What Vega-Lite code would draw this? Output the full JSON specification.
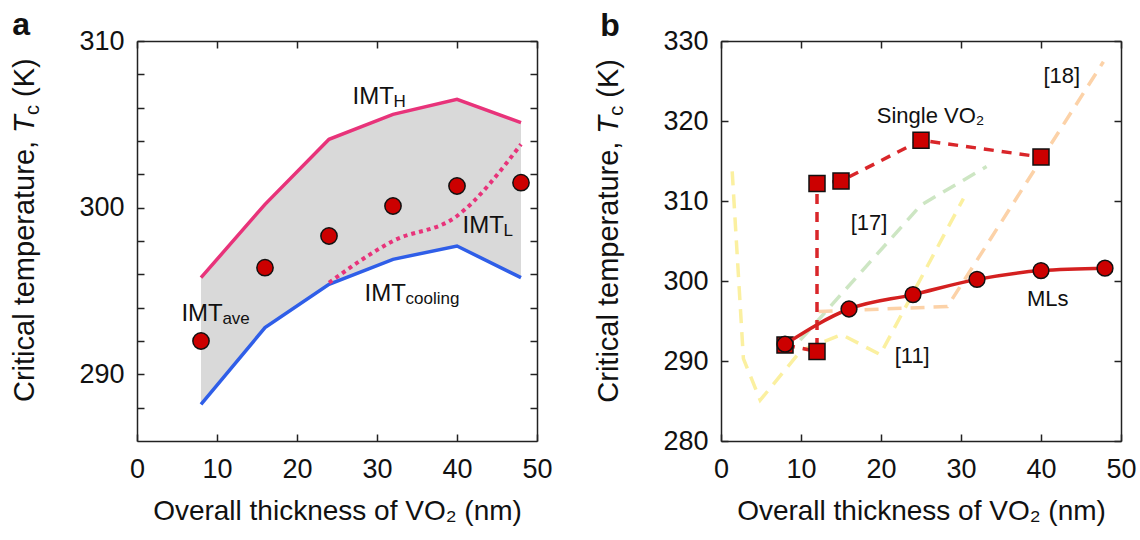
{
  "$schema": "https://vega.github.io/schema/vega-lite/v6.json",
  "padding": {"left": 10, "top": 8, "right": 5, "bottom": 5},
  "config": {
    "font": "Liberation Sans",
    "view": {"stroke": null},
    "axis": {
      "grid": false, "domainColor": "#222", "domainWidth": 1.5,
      "tickColor": "#222", "tickWidth": 1.5, "tickSize": -7, "tickCount": 50, "format": "d",
      "labelFontSize": 27, "labelColor": "#111", "labelFont": "Liberation Sans",
      "titleFontSize": 28, "titleFontWeight": "normal", "titleColor": "#111", "titleFont": "Liberation Sans",
      "labelOverlap": false, "labelFlush": false
    }
  },
  "datasets": {
    "a": [
      {"x": 8, "hi": 295.8, "lo": 288.2, "imtL": null, "ave": 292.0},
      {"x": 16, "hi": 300.2, "lo": 292.8, "imtL": null, "ave": 296.4},
      {"x": 24, "hi": 304.1, "lo": 295.4, "imtL": 295.5, "ave": 298.3},
      {"x": 32, "hi": 305.6, "lo": 296.9, "imtL": 298.0, "ave": 300.1},
      {"x": 40, "hi": 306.5, "lo": 297.7, "imtL": 299.5, "ave": 301.3},
      {"x": 48, "hi": 305.1, "lo": 295.8, "imtL": 303.8, "ave": 301.5}
    ],
    "aLab": [
      {"x": 26.95, "y": 306.2, "main": "IMT", "sub": "H"},
      {"x": 40.7, "y": 298.5, "main": "IMT", "sub": "L"},
      {"x": 28.45, "y": 294.4, "main": "IMT", "sub": "cooling"},
      {"x": 5.55, "y": 293.2, "main": "IMT", "sub": "ave"}
    ],
    "ml": [
      {"x": 8, "y": 292.1}, {"x": 16, "y": 296.5}, {"x": 24, "y": 298.3},
      {"x": 32, "y": 300.2}, {"x": 40, "y": 301.3}, {"x": 48, "y": 301.6}
    ],
    "single": [
      {"o": 1, "x": 8, "y": 292.0}, {"o": 2, "x": 12, "y": 291.2}, {"o": 3, "x": 12, "y": 312.2},
      {"o": 4, "x": 15, "y": 312.5}, {"o": 5, "x": 25, "y": 317.6}, {"o": 6, "x": 40, "y": 315.5}
    ],
    "refs": [
      {"ref": "[11]", "o": 1, "x": 1.4, "y": 313.7},
      {"ref": "[11]", "o": 2, "x": 2.8, "y": 290.3},
      {"ref": "[11]", "o": 3, "x": 4.9, "y": 285.1},
      {"ref": "[11]", "o": 4, "x": 10.0, "y": 291.3},
      {"ref": "[11]", "o": 5, "x": 15.1, "y": 293.3},
      {"ref": "[11]", "o": 6, "x": 19.9, "y": 290.8},
      {"ref": "[11]", "o": 7, "x": 30.3, "y": 310.3},
      {"ref": "[17]", "o": 1, "x": 9.9, "y": 292.6},
      {"ref": "[17]", "o": 2, "x": 25.0, "y": 309.5},
      {"ref": "[17]", "o": 3, "x": 33.2, "y": 314.3},
      {"ref": "[18]", "o": 1, "x": 12.2, "y": 296.2},
      {"ref": "[18]", "o": 2, "x": 28.3, "y": 296.8},
      {"ref": "[18]", "o": 3, "x": 47.8, "y": 327.4}
    ],
    "bLab": [
      {"x": 26.2, "y": 319.7, "t": "Single VO₂"},
      {"x": 18.5, "y": 306.4, "t": "[17]"},
      {"x": 42.6, "y": 324.7, "t": "[18]"},
      {"x": 23.9, "y": 289.7, "t": "[11]"},
      {"x": 40.85, "y": 296.9, "t": "MLs"}
    ]
  },
  "spacing": 41,
  "hconcat": [
    {
      "width": 400, "height": 400,
      "layer": [
        {
          "layer": [
            {
              "data": {"name": "a"},
              "mark": {"type": "area", "color": "#d9d9d9"},
              "encoding": {
                "x": {"field": "x", "type": "quantitative", "scale": {"domain": [0, 50], "nice": false},
                  "axis": {"orient": "bottom", "values": [0, 10, 20, 30, 40, 50], "labelPadding": 22, "title": "Overall thickness of VO₂ (nm)", "titlePadding": 15}},
                "y": {"field": "lo", "type": "quantitative", "scale": {"domain": [286, 310], "nice": false, "zero": false},
                  "axis": {"orient": "left", "values": [288, 290, 292, 294, 296, 298, 300, 302, 304, 306, 308, 310], "format": "d", "labelExpr": "datum.value % 10 === 0 ? datum.label : ''", "labelPadding": 20, "title": null}},
                "y2": {"field": "hi"}
              }
            },
            {
              "data": {"name": "a"},
              "mark": {"type": "line", "color": "#e8337a", "strokeWidth": 3.5},
              "encoding": {"x": {"field": "x", "type": "quantitative"}, "y": {"field": "hi", "type": "quantitative"}}
            },
            {
              "data": {"name": "a"},
              "mark": {"type": "line", "color": "#2f5ee8", "strokeWidth": 3.5},
              "encoding": {"x": {"field": "x", "type": "quantitative"}, "y": {"field": "lo", "type": "quantitative"}}
            },
            {
              "data": {"name": "a"},
              "mark": {"type": "line", "color": "#e8337a", "strokeWidth": 4, "strokeDash": [4, 4], "interpolate": "monotone"},
              "encoding": {"x": {"field": "x", "type": "quantitative"}, "y": {"field": "imtL", "type": "quantitative"}}
            },
            {
              "data": {"name": "a"},
              "mark": {"type": "point", "shape": "circle", "size": 265, "filled": true, "fill": "#cc0000", "stroke": "#111", "strokeWidth": 1.5, "opacity": 1},
              "encoding": {"x": {"field": "x", "type": "quantitative"}, "y": {"field": "ave", "type": "quantitative"}}
            },
            {
              "data": {"name": "aLab"},
              "mark": {"type": "text", "align": "left", "baseline": "alphabetic", "fontSize": 24, "color": "#111"},
              "encoding": {"x": {"field": "x", "type": "quantitative"}, "y": {"field": "y", "type": "quantitative"}, "text": {"field": "main"}}
            },
            {
              "data": {"name": "aLab"},
              "mark": {"type": "text", "align": "left", "baseline": "alphabetic", "fontSize": 17, "dx": 41, "dy": 3, "color": "#111"},
              "encoding": {"x": {"field": "x", "type": "quantitative"}, "y": {"field": "y", "type": "quantitative"}, "text": {"field": "sub"}}
            },
            {
              "data": {"values": [{}]},
              "mark": {"type": "text", "text": "a", "align": "left", "baseline": "alphabetic", "fontSize": 32, "fontWeight": "bold", "color": "#111"},
              "encoding": {"x": {"datum": -15.6, "type": "quantitative"}, "y": {"datum": 310.36, "type": "quantitative"}}
            },
            {
              "data": {"values": [{}]},
              "mark": {"type": "text", "text": "Critical temperature,", "angle": 270, "align": "left", "baseline": "alphabetic", "fontSize": 29, "color": "#111"},
              "encoding": {"x": {"datum": -12.9, "type": "quantitative"}, "y": {"datum": 288.34, "type": "quantitative"}}
            },
            {
              "data": {"values": [{}]},
              "mark": {"type": "text", "text": "T", "angle": 270, "align": "left", "baseline": "alphabetic", "fontSize": 29, "fontStyle": "italic", "dx": 269, "color": "#111"},
              "encoding": {"x": {"datum": -12.9, "type": "quantitative"}, "y": {"datum": 288.34, "type": "quantitative"}}
            },
            {
              "data": {"values": [{}]},
              "mark": {"type": "text", "text": "c", "angle": 270, "align": "left", "baseline": "alphabetic", "fontSize": 20, "dx": 287, "dy": 5, "color": "#111"},
              "encoding": {"x": {"datum": -12.9, "type": "quantitative"}, "y": {"datum": 288.34, "type": "quantitative"}}
            },
            {
              "data": {"values": [{}]},
              "mark": {"type": "text", "text": "(K)", "angle": 270, "align": "left", "baseline": "alphabetic", "fontSize": 29, "dx": 305, "color": "#111"},
              "encoding": {"x": {"datum": -12.9, "type": "quantitative"}, "y": {"datum": 288.34, "type": "quantitative"}}
            }
          ]
        },
        {
          "data": {"values": [{"x": 0, "y": 300}]},
          "mark": {"type": "point", "opacity": 0},
          "encoding": {
            "x": {"field": "x", "type": "quantitative", "axis": {"orient": "top", "values": [0, 10, 20, 30, 40, 50], "labels": false, "title": null}},
            "y": {"field": "y", "type": "quantitative", "axis": {"orient": "right", "values": [288, 290, 292, 294, 296, 298, 300, 302, 304, 306, 308, 310], "labels": false, "title": null}}
          }
        }
      ],
      "resolve": {"axis": {"x": "independent", "y": "independent"}}
    },
    {
      "width": 400, "height": 400,
      "layer": [
        {
          "layer": [
            {
              "data": {"name": "refs"},
              "mark": {"type": "line", "strokeWidth": 3.5, "strokeDash": [14, 9]},
              "encoding": {
                "x": {"field": "x", "type": "quantitative", "scale": {"domain": [0, 50], "nice": false},
                  "axis": {"orient": "bottom", "values": [0, 10, 20, 30, 40, 50], "labelPadding": 22, "title": "Overall thickness of VO₂ (nm)", "titlePadding": 15}},
                "y": {"field": "y", "type": "quantitative", "scale": {"domain": [280, 330], "nice": false, "zero": false},
                  "axis": {"orient": "left", "values": [280, 290, 300, 310, 320, 330], "labelPadding": 20, "title": null}},
                "order": {"field": "o"},
                "color": {"field": "ref", "type": "nominal", "legend": null,
                  "scale": {"domain": ["[11]", "[17]", "[18]"], "range": ["#fbf0a0", "#cde6c3", "#fcd2a8"]}}
              }
            },
            {
              "data": {"name": "single"},
              "mark": {"type": "line", "color": "#d9262a", "strokeWidth": 3.5, "strokeDash": [10, 8]},
              "encoding": {"x": {"field": "x", "type": "quantitative"}, "y": {"field": "y", "type": "quantitative"}, "order": {"field": "o"}}
            },
            {
              "data": {"name": "single"},
              "mark": {"type": "point", "shape": "square", "size": 256, "filled": true, "fill": "#cc0000", "stroke": "#111", "strokeWidth": 1.5, "opacity": 1},
              "encoding": {"x": {"field": "x", "type": "quantitative"}, "y": {"field": "y", "type": "quantitative"}}
            },
            {
              "data": {"name": "ml"},
              "mark": {"type": "line", "color": "#d42020", "strokeWidth": 3.5, "interpolate": "monotone"},
              "encoding": {"x": {"field": "x", "type": "quantitative"}, "y": {"field": "y", "type": "quantitative"}}
            },
            {
              "data": {"name": "ml"},
              "mark": {"type": "point", "shape": "circle", "size": 250, "filled": true, "fill": "#cc0000", "stroke": "#111", "strokeWidth": 1.5, "opacity": 1},
              "encoding": {"x": {"field": "x", "type": "quantitative"}, "y": {"field": "y", "type": "quantitative"}}
            },
            {
              "data": {"name": "bLab"},
              "mark": {"type": "text", "align": "center", "baseline": "alphabetic", "fontSize": 22, "color": "#111"},
              "encoding": {"x": {"field": "x", "type": "quantitative"}, "y": {"field": "y", "type": "quantitative"}, "text": {"field": "t"}}
            },
            {
              "data": {"values": [{}]},
              "mark": {"type": "text", "text": "b", "align": "left", "baseline": "alphabetic", "fontSize": 32, "fontWeight": "bold", "color": "#111"},
              "encoding": {"x": {"datum": -15.1, "type": "quantitative"}, "y": {"datum": 330.66, "type": "quantitative"}}
            },
            {
              "data": {"values": [{}]},
              "mark": {"type": "text", "text": "Critical temperature,", "angle": 270, "align": "left", "baseline": "alphabetic", "fontSize": 29, "color": "#111"},
              "encoding": {"x": {"datum": -12.9, "type": "quantitative"}, "y": {"datum": 284.79, "type": "quantitative"}}
            },
            {
              "data": {"values": [{}]},
              "mark": {"type": "text", "text": "T", "angle": 270, "align": "left", "baseline": "alphabetic", "fontSize": 29, "fontStyle": "italic", "dx": 269, "color": "#111"},
              "encoding": {"x": {"datum": -12.9, "type": "quantitative"}, "y": {"datum": 284.79, "type": "quantitative"}}
            },
            {
              "data": {"values": [{}]},
              "mark": {"type": "text", "text": "c", "angle": 270, "align": "left", "baseline": "alphabetic", "fontSize": 20, "dx": 287, "dy": 5, "color": "#111"},
              "encoding": {"x": {"datum": -12.9, "type": "quantitative"}, "y": {"datum": 284.79, "type": "quantitative"}}
            },
            {
              "data": {"values": [{}]},
              "mark": {"type": "text", "text": "(K)", "angle": 270, "align": "left", "baseline": "alphabetic", "fontSize": 29, "dx": 305, "color": "#111"},
              "encoding": {"x": {"datum": -12.9, "type": "quantitative"}, "y": {"datum": 284.79, "type": "quantitative"}}
            }
          ]
        },
        {
          "data": {"values": [{"x": 0, "y": 300}]},
          "mark": {"type": "point", "opacity": 0},
          "encoding": {
            "x": {"field": "x", "type": "quantitative", "axis": {"orient": "top", "values": [0, 10, 20, 30, 40, 50], "labels": false, "title": null}},
            "y": {"field": "y", "type": "quantitative", "axis": {"orient": "right", "values": [280, 290, 300, 310, 320, 330], "labels": false, "title": null}}
          }
        }
      ],
      "resolve": {"axis": {"x": "independent", "y": "independent"}}
    }
  ]
}
